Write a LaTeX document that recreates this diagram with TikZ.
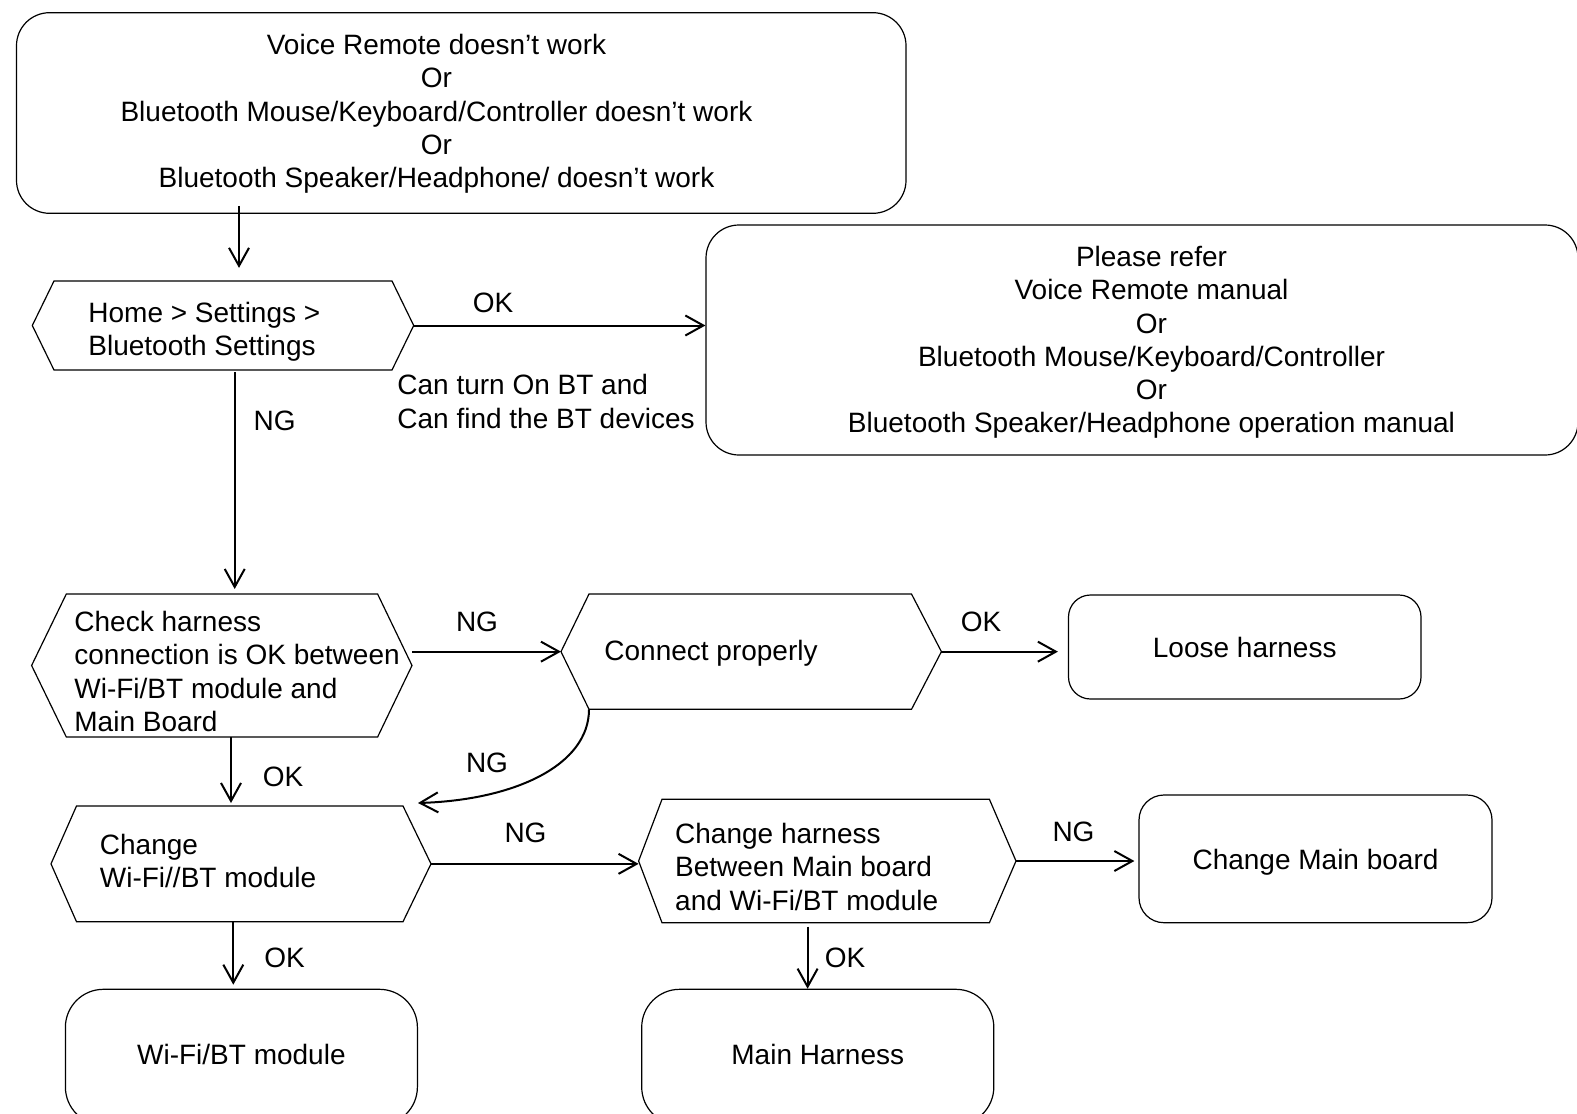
\documentclass[tikz,border=0pt]{standalone}
\usepackage{fontspec}
\setmainfont{Liberation Sans}
\usetikzlibrary{arrows.meta}
\tikzset{
  shapeline/.style={draw=black, line width=0.6pt},
  rbox/.style={shapeline, rectangle, rounded corners=#1, inner sep=0pt},
  txt/.style={font=\fontsize{14pt}{16.65pt}\selectfont, inner sep=0pt},
  conn/.style={line width=1pt, -{Straight Barb[length=9pt,width=10pt]}},
}
\newcommand\hexshape[7]{%
  \path (#3,#6) coordinate (#1-tl) (#4,#6) coordinate (#1-tr)
        (#4,#7) coordinate (#1-br) (#3,#7) coordinate (#1-bl)
        (#2,{(#6+#7)/2}) coordinate (#1-l) (#5,{(#6+#7)/2}) coordinate (#1-r);
  \draw[shapeline] (#1-tl) -- (#1-tr) -- (#1-r) -- (#1-br) -- (#1-bl) -- (#1-l) -- cycle;}
\begin{document}
\begin{tikzpicture}[x=0.5pt, y=-0.5pt]
\useasboundingbox (0,0) rectangle (1577,1113);
\fill[white] (0,0) rectangle (1577,1113);
\clip (0,0) rectangle (1577,1113);

% rounded boxes
\node[rbox=16.5pt, minimum width=444.75pt, minimum height=100.3pt] (top) at (461.25,113) {};
\node[txt, align=center] (topt) at (436.5,114) {Voice Remote doesn’t work\\Or\\Bluetooth Mouse/Keyboard/Controller doesn’t work\\Or\\Bluetooth Speaker/Headphone/ doesn’t work};

\node[rbox=16.5pt, minimum width=436pt, minimum height=115pt] (rb) at (1142,340) {};
\node[txt, align=center] (rbt) at (1151.5,342.5) {Please refer\\Voice Remote manual\\Or\\Bluetooth Mouse/Keyboard/Controller\\Or\\Bluetooth Speaker/Headphone operation manual};

\node[rbox=11pt, minimum width=176.25pt, minimum height=52pt, txt, draw] (loose) at (1244.75,647) {Loose harness};
\node[rbox=12.5pt, minimum width=176.5pt, minimum height=63.85pt, txt, draw] (mb) at (1315.5,858.85) {\raisebox{-1.5pt}[\height][\depth]{Change Main board}};
\node[rbox=19pt, minimum width=176pt, minimum height=67.85pt, txt, draw] (wifi) at (241.4,1057.15) {\raisebox{1.5pt}[\height][\depth]{Wi-Fi/BT module}};
\node[rbox=19pt, minimum width=176.05pt, minimum height=67.85pt, txt, draw] (mh) at (817.75,1057.15) {\raisebox{1.5pt}[\height][\depth]{Main Harness}};

% hexagons
\hexshape{h1}{32.3}{54}{392}{413.7}{281}{370}
\node[txt, align=left, anchor=west] (h1t) at (88,332) {Home > Settings >\\Bluetooth Settings};
\hexshape{h2}{31.6}{66.3}{377.6}{412}{594}{737}
\node[txt, align=left, anchor=west] (h2t) at (74,671.6) {Check harness\\connection is OK between\\Wi-Fi/BT module and\\Main Board};
\hexshape{h3}{561}{589}{911.5}{941.4}{594}{709.3}
\node[txt, anchor=west] (h3t) at (604,653.7) {Connect properly};
\hexshape{h4}{51}{76.5}{403}{431}{806}{921.7}
\node[txt, align=left, anchor=west] (h4t) at (99.5,861) {Change\\Wi-Fi//BT module};
\hexshape{h5}{638.6}{662}{989.4}{1016}{799.3}{922.7}
\node[txt, align=left, anchor=west] (h5t) at (674.8,866.7) {Change harness\\Between Main board\\and Wi-Fi/BT module};

% connectors
\draw[conn] (top.south -| 239,0) ++(0,-8) -- ++(0,62);
\draw[conn] (h1-r) -- (h1-r -| rb.west);
\node[txt] (lok1) at (493,303) {OK};
\node[txt, align=left, anchor=west] (lcan) at (397,401.5) {Can turn On BT and\\Can find the BT devices};

\draw[conn, shorten >=2.5pt] (h1-bl -| 234.7,0) ++(0,2) -- (h2-tl -| 234.7,0);
\node[txt] (lng1) at (274.6,421) {NG};

\draw[conn] (h3-l -| h2-r) -- (h3-l);
\node[txt] (lng2) at (477,621.7) {NG};

\draw[conn, shorten >=5pt] (h3-r) -- (h3-r -| loose.west);
\node[txt] (lok2) at (981,621.7) {OK};

\coordinate (cvend) at (418,803);
\draw[conn] (h3-bl) .. controls (589,765) and (515,800) .. (cvend);
\node[txt] (lng3) at (487,763) {NG};

\draw[conn, shorten >=1.5pt] (h2-bl -| 231,0) -- (h4-tl -| 231,0);
\node[txt] (lok3) at (283,776.7) {OK};

\draw[conn] (h4-r) -- (h4-r -| h5-l);
\node[txt] (lng4) at (525.5,833) {NG};

\draw[conn, shorten >=2pt] (h5-r) -- (h5-r -| mb.west);
\node[txt] (lng5) at (1073.5,831.7) {NG};

\draw[conn, shorten >=2pt] (h4-bl -| 233.3,0) -- (wifi.north -| 233.3,0);
\node[txt] (lok4) at (284.6,958.3) {OK};

\draw[conn] (h5-bl -| 807.6,0) ++(0,4) -- (mh.north -| 807.6,0);
\node[txt] (lok5) at (845,958) {OK};
\end{tikzpicture}
\end{document}
